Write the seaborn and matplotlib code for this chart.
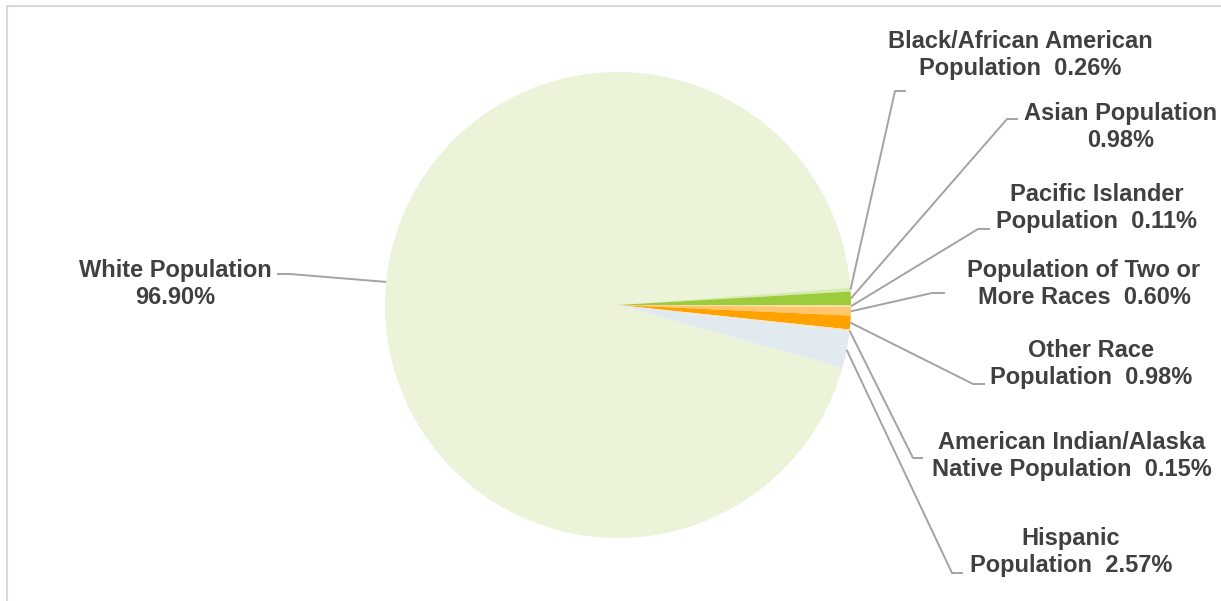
import numpy as np
import seaborn as sns
import matplotlib.pyplot as plt
from matplotlib.patches import Rectangle

# --- Data ---
categories = ["White", "Black/African American", "Asian", "Pacific Islander",
              "Two or More Races", "Other Race", "American Indian/Alaska Native",
              "Hispanic"]
label_lines = [("White Population", ""),
               ("Black/African American", "Population"),
               ("Asian Population", ""),
               ("Pacific Islander", "Population"),
               ("Population of Two or", "More Races"),
               ("Other Race", "Population"),
               ("American Indian/Alaska", "Native Population"),
               ("Hispanic", "Population")]
values = [96.90, 0.26, 0.98, 0.11, 0.60, 0.98, 0.15, 2.57]

# --- Styling ---
colors = ["#EBF3D9", "#D6EAB2", "#9CCB3B", "#FDDDA6",
          "#FFC66E", "#FFA200", "#F3E3CF", "#E1EBEF"]
# label centre, elbow and line end, in pixels from top-left
label_pos = [(175, 284), (1020, 55), (1121, 127), (1097, 208),
             (1084, 284), (1091, 364), (1072, 456), (1071, 552)]
elbows = [((290, 274), (277, 274)), ((895, 91), (906, 91)),
          ((1007, 119), (1018, 119)), ((978, 229), (990, 229)),
          ((932, 293), (945, 293)), ((973, 384), (985, 384)),
          ((913, 458), (923, 458)), ((952, 573), (963, 573))]

W, H = 1221, 601
sns.set_theme(style="white")
plt.rcParams['font.family'] = ['Liberation Sans', 'DejaVu Sans']

fig = plt.figure(figsize=(W / 100, H / 100), dpi=100)
ax = fig.add_axes([0, 0, 1, 1])

cx, cy, r = 618, H - 305, 233
wedges, _ = ax.pie(values, colors=colors, startangle=344.4, counterclock=False,
                   center=(cx, cy), radius=r, wedgeprops=dict(linewidth=0))
ax.set_xlim(0, W)
ax.set_ylim(0, H)
ax.set_aspect('auto')
ax.axis('off')

line_col = "#A3A3A3"
for w, lines, val, (tx, ty), ((ex, ey), (hx, hy)) in zip(
        wedges, label_lines, values, label_pos, elbows):
    mid = np.deg2rad((w.theta1 + w.theta2) / 2)
    ax_x, ax_y = cx + r * np.cos(mid), cy + r * np.sin(mid)
    ax.plot([ax_x, ex, hx], [ax_y, H - ey, H - hy], color=line_col, lw=1.4,
            solid_capstyle='butt')
    first, second = lines
    second = f"{second}  {val:.2f}%" if second else f"{val:.2f}%"
    ax.text(tx, H - ty, f"{first}\n{second}", ha='center', va='center',
            multialignment='center', fontsize=17, fontweight='bold',
            color="#404040", linespacing=1.27)

# chart frame (only top and left edges are inside the picture)
ax.add_patch(Rectangle((6.5, -20), W + 40, H - 5.5 + 20, fill=False,
                       edgecolor="#D9D9D9", lw=1.5, clip_on=False))

fig.savefig("out.png", dpi=100)
plt.close(fig)
